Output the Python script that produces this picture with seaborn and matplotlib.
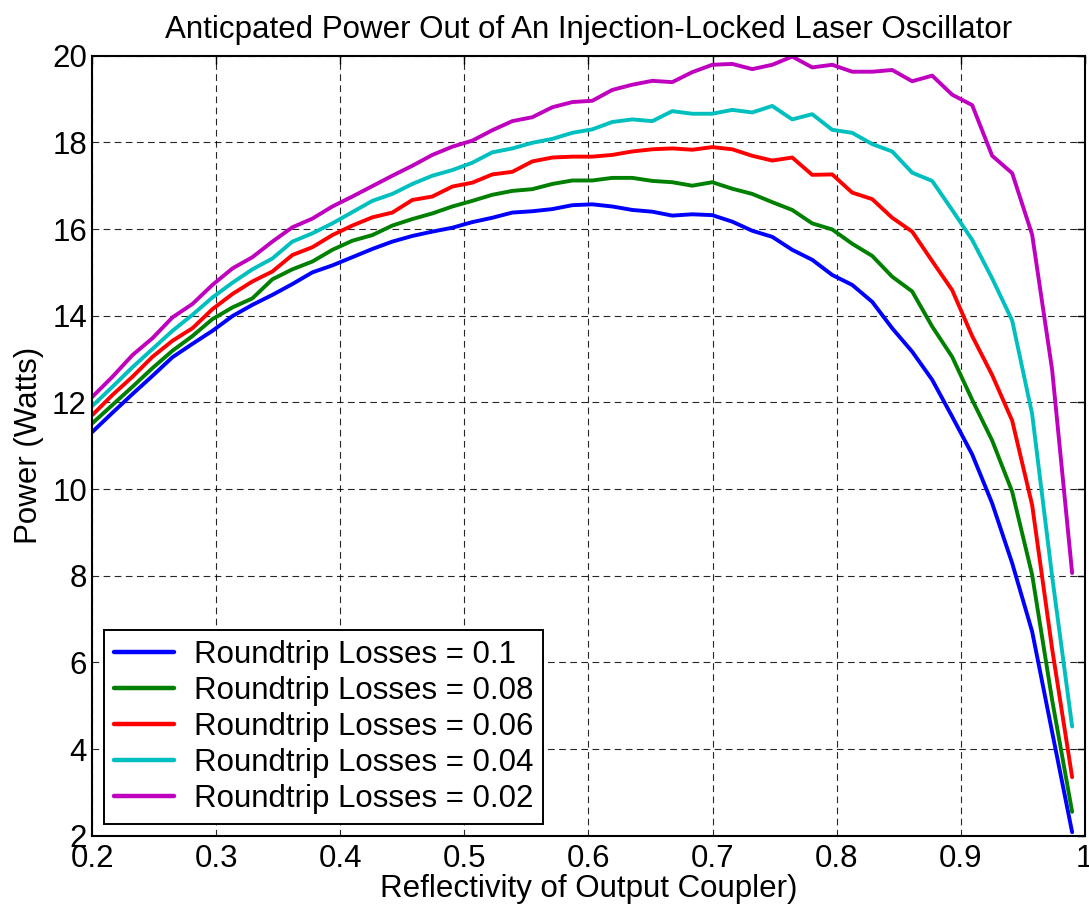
import numpy as np
import pandas as pd
import matplotlib
matplotlib.use("Agg")
import matplotlib.pyplot as plt
import seaborn as sns

# ---- data ----
reflectivity = np.linspace(0.2, 0.99, 50)

loss_labels = ["Roundtrip Losses = 0.1", "Roundtrip Losses = 0.08",
               "Roundtrip Losses = 0.06", "Roundtrip Losses = 0.04",
               "Roundtrip Losses = 0.02"]

power_loss_010 = [11.32, 11.76, 12.19, 12.61, 13.04, 13.35, 13.65, 13.99, 14.25, 14.48,
                  14.73, 15.00, 15.16, 15.35, 15.54, 15.71, 15.84, 15.94, 16.03, 16.16,
                  16.26, 16.38, 16.41, 16.46, 16.55, 16.57, 16.52, 16.44, 16.40, 16.31,
                  16.34, 16.32, 16.17, 15.96, 15.82, 15.52, 15.29, 14.94, 14.71, 14.32,
                  13.71, 13.17, 12.52, 11.67, 10.80, 9.67, 8.29, 6.71, 4.39, 2.08]
power_loss_008 = [11.52, 11.94, 12.36, 12.79, 13.19, 13.53, 13.92, 14.19, 14.40, 14.84,
                  15.07, 15.25, 15.52, 15.73, 15.86, 16.08, 16.23, 16.36, 16.52, 16.65,
                  16.79, 16.88, 16.92, 17.04, 17.12, 17.12, 17.18, 17.18, 17.11, 17.08,
                  17.00, 17.08, 16.93, 16.81, 16.62, 16.44, 16.13, 15.99, 15.66, 15.38,
                  14.90, 14.56, 13.75, 13.05, 12.06, 11.12, 9.94, 8.02, 5.13, 2.55]
power_loss_006 = [11.71, 12.17, 12.59, 13.05, 13.42, 13.71, 14.15, 14.50, 14.79, 15.02,
                  15.40, 15.58, 15.86, 16.08, 16.27, 16.38, 16.67, 16.75, 16.98, 17.07,
                  17.26, 17.32, 17.56, 17.65, 17.67, 17.67, 17.71, 17.79, 17.84, 17.86,
                  17.83, 17.89, 17.84, 17.69, 17.58, 17.65, 17.25, 17.26, 16.84, 16.69,
                  16.26, 15.94, 15.26, 14.59, 13.53, 12.63, 11.58, 9.63, 6.31, 3.35]
power_loss_004 = [11.92, 12.36, 12.81, 13.23, 13.65, 14.02, 14.42, 14.76, 15.07, 15.32,
                  15.71, 15.90, 16.13, 16.39, 16.65, 16.81, 17.04, 17.23, 17.36, 17.53,
                  17.77, 17.86, 17.99, 18.08, 18.22, 18.30, 18.47, 18.53, 18.49, 18.72,
                  18.66, 18.66, 18.75, 18.69, 18.84, 18.53, 18.65, 18.29, 18.22, 17.96,
                  17.79, 17.30, 17.11, 16.44, 15.75, 14.86, 13.89, 11.73, 7.98, 4.52]
power_loss_002 = [12.13, 12.59, 13.09, 13.48, 13.96, 14.27, 14.71, 15.09, 15.35, 15.71,
                  16.04, 16.24, 16.52, 16.75, 16.99, 17.23, 17.46, 17.71, 17.90, 18.04,
                  18.28, 18.49, 18.58, 18.81, 18.93, 18.96, 19.21, 19.33, 19.42, 19.39,
                  19.62, 19.79, 19.81, 19.69, 19.79, 19.98, 19.73, 19.79, 19.63, 19.63,
                  19.67, 19.41, 19.54, 19.10, 18.86, 17.69, 17.29, 15.87, 12.75, 8.06]

series = [power_loss_010, power_loss_008, power_loss_006, power_loss_004, power_loss_002]
colors = ["#0000ff", "#008000", "#ff0000", "#00bfbf", "#bf00bf"]

x_ticks = [0.2, 0.3, 0.4, 0.5, 0.6, 0.7, 0.8, 0.9, 1.0]
x_tick_labels = ["0.2", "0.3", "0.4", "0.5", "0.6", "0.7", "0.8", "0.9", "1"]
y_ticks = [2, 4, 6, 8, 10, 12, 14, 16, 18, 20]

df = pd.concat([pd.DataFrame({"x": reflectivity, "y": s, "series": lab})
                for s, lab in zip(series, loss_labels)], ignore_index=True)

# ---- style ----
sns.set_style("white")
plt.rcParams["font.family"] = ["Liberation Sans", "DejaVu Sans"]
plt.rcParams["text.color"] = "black"
plt.rcParams["axes.labelcolor"] = "black"
FS = 22.5

fig = plt.figure(figsize=(10.89, 9.16), dpi=100)
ax = fig.add_axes([0.0849, 0.0877, 0.9110, 0.8515])

sns.lineplot(data=df, x="x", y="y", hue="series", hue_order=loss_labels,
             palette=colors, estimator=None, sort=False, linewidth=2.8, ax=ax)

ax.set_xlim(0.2, 1.0)
ax.set_ylim(2, 20)
ax.set_xticks(x_ticks)
ax.set_xticklabels(x_tick_labels)
ax.set_yticks(y_ticks)
ax.tick_params(direction="in", length=6, width=1.0, top=True, right=True,
               labelsize=FS, colors="black")
ax.tick_params(axis="x", pad=6)
ax.tick_params(axis="y", pad=4)
ax.grid(True, color="black", linestyle=(0, (6, 4)), linewidth=0.8, alpha=0.85)
for sp in ax.spines.values():
    sp.set_color("black")
    sp.set_linewidth(1.5)

ax.set_title("Anticpated Power Out of An Injection-Locked Laser Oscillator",
             fontsize=FS, pad=13, color="black")
ax.set_xlabel("Reflectivity of Output Coupler)", fontsize=FS, labelpad=0, color="black")
ax.set_ylabel("Power (Watts)", fontsize=FS, labelpad=6, color="black")

leg = ax.legend(loc="lower left", bbox_to_anchor=(0.0116, 0.015), fontsize=FS,
                frameon=True, fancybox=False, edgecolor="black", framealpha=1,
                handlelength=1.9, handletextpad=0.64, labelspacing=0.19,
                borderpad=0.33, borderaxespad=0.0)
leg.get_frame().set_linewidth(1.4)
for t in leg.get_texts():
    t.set_color("black")
for h in leg.get_lines():
    h.set_linewidth(3.2)

fig.savefig("out.png", dpi=100)
